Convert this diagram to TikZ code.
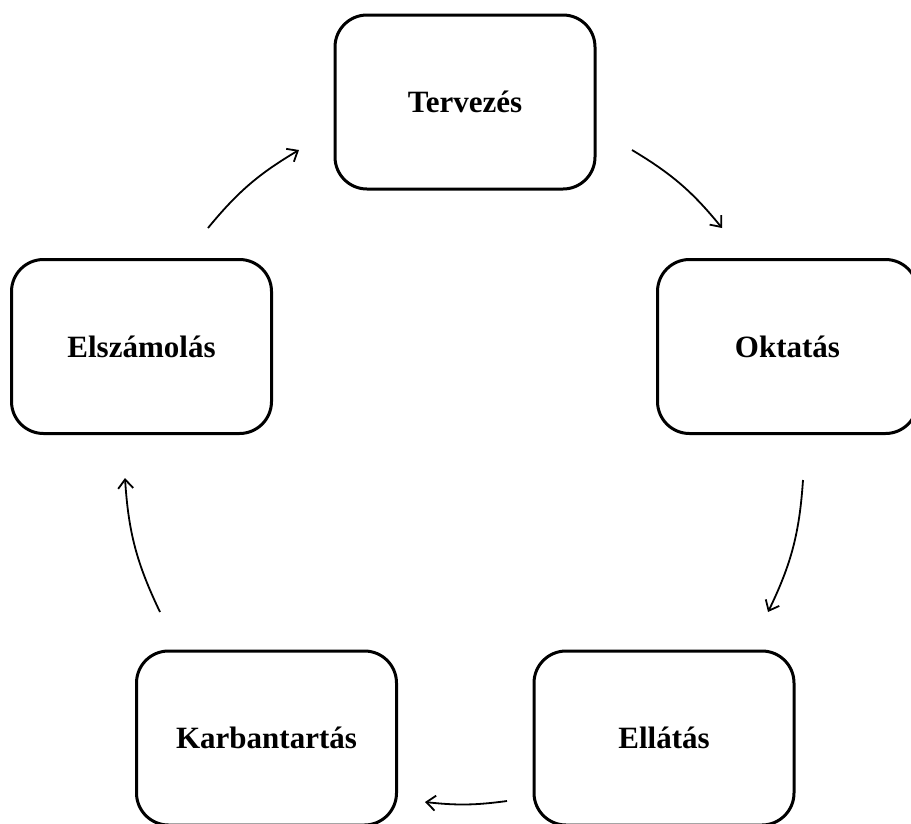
\documentclass[tikz,border=0pt]{standalone}
\usepackage{fontspec}
\setmainfont{Liberation Serif}
\usetikzlibrary{arrows.meta}

\begin{document}
\begin{tikzpicture}[
  x=1pt, y=1pt,
  phase/.style={draw, rectangle, rounded corners=32pt, line width=3pt,
  minimum width=260pt, minimum height=174pt, align=center,
  font=\fontsize{31}{36}\selectfont\bfseries},
  cyc/.style={draw, line width=1.8pt, -{Straight Barb[length=9pt,width=15pt]}}
]
\useasboundingbox (0,0) rectangle (911,-823);
\clip (0,0) rectangle (911,-823);

\node[phase] (terv) at (465,-102) {Tervezés};
\node[phase] (okt) at (787.5,-346.5) {Oktatás};
\node[phase] (ell) at (664,-738) {Ellátás};
\node[phase] (karb) at (266.5,-738) {Karbantartás};
\node[phase] (elsz) at (141.5,-346.5) {Elszámolás};

% arrow ends
\coordinate (elsz-out) at (208,-228);
\coordinate (terv-in) at (299,-150);
\coordinate (terv-out) at (632,-150);
\coordinate (okt-in) at (722,-228);
\coordinate (okt-out) at (803,-480);
\coordinate (ell-in) at (768,-612);
\coordinate (ell-out) at (507,-801);
\coordinate (karb-in) at (425,-802);
\coordinate (karb-out) at (160,-612);
\coordinate (elsz-in) at (125,-478);

\draw[cyc] (elsz-out) to[bend left=10] (terv-in);
\draw[cyc] (terv-out) to[bend left=10] (okt-in);
\draw[cyc] (okt-out) to[bend left=11] (ell-in);
\draw[cyc] (ell-out) to[bend left=7] (karb-in);
\draw[cyc] (karb-out) to[bend left=11] (elsz-in);

\end{tikzpicture}
\end{document}
